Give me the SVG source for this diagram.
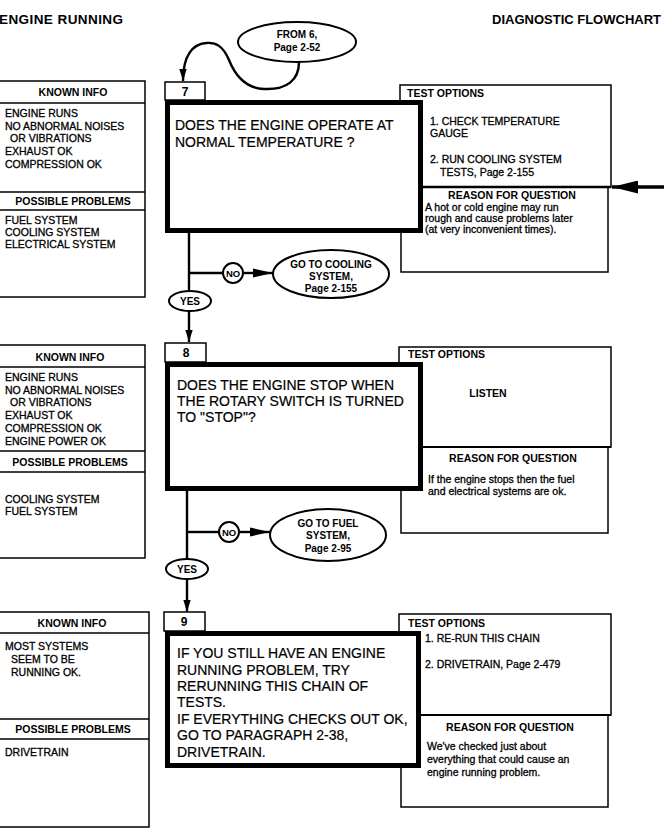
<svg xmlns="http://www.w3.org/2000/svg" width="668" height="840" viewBox="0 0 668 840">
<defs>
<style>
text{font-family:"Liberation Sans",Arial,Helvetica,sans-serif;fill:#000}
.hd{font-size:13.5px;font-weight:bold}
.t{font-size:10.5px;stroke:#000;stroke-width:0.3}
.b{font-size:10.5px;font-weight:bold}
.q{font-size:14px;stroke:#000;stroke-width:0.2}
.o{font-size:10px;font-weight:bold}
.c{text-anchor:middle}
.thin{fill:#fff;stroke:#000;stroke-width:1.5}
.div{fill:none;stroke:#000;stroke-width:1.5}
.thick{fill:#fff;stroke:#000;stroke-width:5}
.ln{fill:none;stroke:#000;stroke-width:2.4}
.ov{fill:#fff;stroke:#000;stroke-width:2}
</style>
<marker id="ah" markerUnits="userSpaceOnUse" markerWidth="12" markerHeight="20" refX="18" refY="5.5" viewBox="0 0 18 11" orient="auto">
<path d="M0,0 L18,5.5 L0,11 Z" fill="#000"/>
</marker>
<marker id="ahs" markerUnits="userSpaceOnUse" markerWidth="20" markerHeight="10" refX="20" refY="4.5" viewBox="0 0 20 9" orient="auto">
<path d="M0,0 L20,4.5 L0,9 Z" fill="#000"/>
</marker>
<marker id="ahb" markerUnits="userSpaceOnUse" markerWidth="26" markerHeight="13" refX="26" refY="6.5" viewBox="0 0 26 13" orient="auto">
<path d="M0,0 L26,6.5 L0,13 Z" fill="#000"/>
</marker>
</defs>
<rect width="668" height="840" fill="#fff"/>

<g id="header">
<text class="hd" x="-1" y="24" textLength="124">ENGINE RUNNING</text>
<text class="hd" x="661" y="24" text-anchor="end" style="font-size:13px">DIAGNOSTIC FLOWCHART</text>
</g>

<!-- Block 7 -->
<g id="known7">
<rect class="thin" x="-1" y="81" width="146" height="216"/>
<line class="div" x1="-1" y1="103" x2="145" y2="103"/>
<line class="div" x1="-1" y1="192" x2="145" y2="192"/>
<line class="div" x1="-1" y1="210" x2="145" y2="210"/>
<text class="b c" x="73" y="96">KNOWN INFO</text>
<text class="t" x="5" y="117">ENGINE RUNS</text>
<text class="t" x="5" y="129.5">NO ABNORMAL NOISES</text>
<text class="t" x="10" y="142">OR VIBRATIONS</text>
<text class="t" x="5" y="155">EXHAUST OK</text>
<text class="t" x="5" y="168">COMPRESSION OK</text>
<text class="b c" x="73" y="205">POSSIBLE PROBLEMS</text>
<text class="t" x="5" y="224">FUEL SYSTEM</text>
<text class="t" x="5" y="236">COOLING SYSTEM</text>
<text class="t" x="5" y="248">ELECTRICAL SYSTEM</text>
</g>
<g id="test7">
<rect class="thin" x="401" y="187" width="207" height="85"/>
<rect class="thin" x="400" y="85" width="211" height="102"/>
<line x1="400" y1="187" x2="611" y2="187" stroke="#000" stroke-width="2.5"/>
<text class="b" x="407" y="97">TEST OPTIONS</text>
<text class="t" x="430" y="125">1. CHECK TEMPERATURE</text>
<text class="t" x="430" y="137">GAUGE</text>
<text class="t" x="430" y="163">2. RUN COOLING SYSTEM</text>
<text class="t" x="440" y="176">TESTS, Page 2-155</text>
<text class="b c" x="512" y="199">REASON FOR QUESTION</text>
<text class="t" x="425" y="211">A hot or cold engine may run</text>
<text class="t" x="425" y="222">rough and cause problems later</text>
<text class="t" x="425" y="233">(at very inconvenient times).</text>
</g>
<g id="q7">
<rect class="thin" x="165" y="82" width="40" height="18"/>
<text class="b c" x="185" y="96" style="font-size:12px">7</text>
<rect class="thick" x="167.5" y="102.5" width="253" height="128"/>
<text class="q" x="175" y="130">DOES THE ENGINE OPERATE AT</text>
<text class="q" x="175" y="147">NORMAL TEMPERATURE ?</text>
</g>
<g id="from6">
<ellipse class="ov" cx="297" cy="42" rx="59" ry="20"/>
<text class="o c" x="297" y="38">FROM 6,</text>
<text class="o c" x="297" y="51">Page 2-52</text>
</g>
<g id="no7">
<circle class="ov" cx="233" cy="273" r="10"/>
<text class="o c" x="233" y="276.5" style="font-size:9.5px">NO</text>
</g>
<g id="cooling">
<ellipse class="ov" cx="331" cy="274" rx="58" ry="24"/>
<text class="o c" x="331" y="268">GO TO COOLING</text>
<text class="o c" x="331" y="280">SYSTEM,</text>
<text class="o c" x="331" y="292">Page 2-155</text>
</g>
<g id="yes7">
<ellipse class="ov" cx="190" cy="301" rx="21" ry="10"/>
<text class="o c" x="190" y="305">YES</text>
</g>

<!-- Block 8 -->
<g id="known8">
<rect class="thin" x="-1" y="345" width="146" height="213"/>
<line class="div" x1="-1" y1="367" x2="145" y2="367"/>
<line class="div" x1="-1" y1="451" x2="145" y2="451"/>
<line class="div" x1="-1" y1="472" x2="145" y2="472"/>
<text class="b c" x="70" y="361">KNOWN INFO</text>
<text class="t" x="5" y="381">ENGINE RUNS</text>
<text class="t" x="5" y="393.5">NO ABNORMAL NOISES</text>
<text class="t" x="10" y="406">OR VIBRATIONS</text>
<text class="t" x="5" y="419">EXHAUST OK</text>
<text class="t" x="5" y="432">COMPRESSION OK</text>
<text class="t" x="5" y="445">ENGINE POWER OK</text>
<text class="b c" x="70" y="466">POSSIBLE PROBLEMS</text>
<text class="t" x="5" y="503">COOLING SYSTEM</text>
<text class="t" x="5" y="515">FUEL SYSTEM</text>
</g>
<g id="test8">
<rect class="thin" x="401" y="447" width="207" height="86"/>
<rect class="thin" x="399" y="347" width="212" height="100"/>
<line x1="399" y1="447" x2="611" y2="447" stroke="#000" stroke-width="2"/>
<text class="b" x="408" y="358">TEST OPTIONS</text>
<text class="b c" x="488" y="397">LISTEN</text>
<text class="b c" x="513" y="462">REASON FOR QUESTION</text>
<text class="t" x="428" y="483">If the engine stops then the fuel</text>
<text class="t" x="428" y="495">and electrical systems are ok.</text>
</g>
<g id="q8">
<rect class="thin" x="165" y="343" width="41" height="19"/>
<text class="b c" x="186" y="357" style="font-size:12px">8</text>
<rect class="thick" x="167.5" y="364.5" width="253" height="124"/>
<text class="q" x="177" y="390">DOES THE ENGINE STOP WHEN</text>
<text class="q" x="177" y="406">THE ROTARY SWITCH IS TURNED</text>
<text class="q" x="177" y="422">TO "STOP"?</text>
</g>
<g id="no8">
<circle class="ov" cx="229" cy="532" r="10"/>
<text class="o c" x="229" y="535.5" style="font-size:9.5px">NO</text>
</g>
<g id="fuel">
<ellipse class="ov" cx="328" cy="535" rx="58" ry="26"/>
<text class="o c" x="328" y="527">GO TO FUEL</text>
<text class="o c" x="328" y="539">SYSTEM,</text>
<text class="o c" x="328" y="552">Page 2-95</text>
</g>
<g id="yes8">
<ellipse class="ov" cx="187" cy="569" rx="21" ry="10"/>
<text class="o c" x="187" y="573">YES</text>
</g>

<!-- Block 9 -->
<g id="known9">
<rect class="thin" x="-1" y="612" width="150" height="215"/>
<line class="div" x1="-1" y1="633" x2="149" y2="633"/>
<line class="div" x1="-1" y1="719" x2="149" y2="719"/>
<line class="div" x1="-1" y1="739" x2="149" y2="739"/>
<text class="b c" x="72" y="627">KNOWN INFO</text>
<text class="t" x="5" y="650">MOST SYSTEMS</text>
<text class="t" x="11" y="663">SEEM TO BE</text>
<text class="t" x="11" y="676">RUNNING OK.</text>
<text class="b c" x="73" y="733">POSSIBLE PROBLEMS</text>
<text class="t" x="5" y="756">DRIVETRAIN</text>
</g>
<g id="test9">
<rect class="thin" x="401" y="715" width="207" height="92"/>
<rect class="thin" x="399" y="614" width="212" height="101"/>
<line x1="399" y1="715" x2="611" y2="715" stroke="#000" stroke-width="2"/>
<text class="b" x="408" y="627">TEST OPTIONS</text>
<text class="t" x="425" y="642">1. RE-RUN  THIS CHAIN</text>
<text class="t" x="425" y="668">2. DRIVETRAIN, Page 2-479</text>
<text class="b c" x="510" y="731">REASON FOR QUESTION</text>
<text class="t" x="427" y="750">We've checked just about</text>
<text class="t" x="427" y="763">everything that could cause an</text>
<text class="t" x="427" y="776">engine running problem.</text>
</g>
<g id="q9">
<rect class="thin" x="164" y="612" width="41" height="19"/>
<text class="b c" x="184" y="626" style="font-size:12px">9</text>
<rect class="thick" x="167.5" y="633.5" width="251" height="132"/>
<text class="q" x="177" y="658">IF YOU STILL HAVE AN ENGINE</text>
<text class="q" x="177" y="675">RUNNING PROBLEM, TRY</text>
<text class="q" x="177" y="691">RERUNNING THIS CHAIN OF</text>
<text class="q" x="177" y="707">TESTS.</text>
<text class="q" x="177" y="724">IF EVERYTHING CHECKS OUT OK,</text>
<text class="q" x="177" y="740">GO TO PARAGRAPH 2-38,</text>
<text class="q" x="177" y="757">DRIVETRAIN.</text>
</g>

<g id="connectors">
<path class="ln" d="M299,62 C299,80 287,90 264,89 C242,88 233,70 229,60 C223,46 216,42 206,43 C193,44 183,55 183,81" marker-end="url(#ah)"/>
<line x1="664" y1="187" x2="612" y2="187" stroke="#000" stroke-width="3.5" marker-end="url(#ahb)"/>
<line class="ln" x1="189" y1="233" x2="189" y2="291"/>
<line class="ln" x1="189" y1="273" x2="223" y2="273"/>
<line class="ln" x1="243" y1="273" x2="273" y2="273" marker-end="url(#ahs)"/>
<line class="ln" x1="189" y1="311" x2="189" y2="342" marker-end="url(#ah)"/>
<line class="ln" x1="187" y1="491" x2="187" y2="559"/>
<line class="ln" x1="187" y1="532" x2="219" y2="532"/>
<line class="ln" x1="239" y1="532" x2="270" y2="532" marker-end="url(#ahs)"/>
<line class="ln" x1="187" y1="579" x2="187" y2="612" marker-end="url(#ah)"/>
</g>
</svg>
